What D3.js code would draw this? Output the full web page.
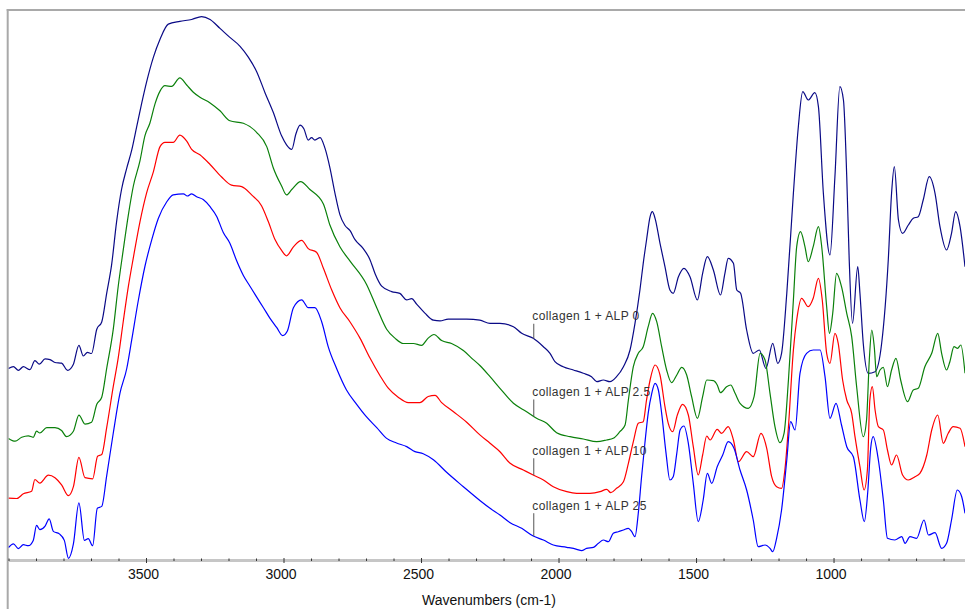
<!DOCTYPE html>
<html><head><meta charset="utf-8">
<script src="https://cdn.jsdelivr.net/npm/d3@7/dist/d3.min.js"></script>
<style>body{margin:0;background:#fff}svg{display:block}</style>
</head><body><svg id="c" width="965" height="609"></svg>
<script>
// ---------- data ----------
const seriesNames = ["collagen 1 + ALP 0", "collagen 1 + ALP 2.5", "collagen 1 + ALP 10", "collagen 1 + ALP 25"];
const seriesColors = ["#0a0a86", "#0b800b", "#ff0000", "#0000ff"];

const wn0 = [4000,3982,3964,3946,3922,3904,3888,3867,3849,3831,3807,3785,3764,3744,3728,3713,3698,3679,3661,3643,3625,3607,3589,3570,3552,3534,3516,3498,3473,3449,3419,3377,3334,3298,3267,3231,3195,3158,3128,3098,3067,3037,3007,2989,2970,2955,2940,2926,2910,2898,2886,2867,2849,2831,2813,2795,2777,2758,2740,2710,2686,2667,2643,2607,2577,2552,2534,2516,2486,2455,2431,2401,2334,2286,2249,2213,2164,2134,2092,2055,2031,2013,1983,1946,1910,1880,1861,1837,1813,1789,1764,1740,1722,1704,1692,1680,1667,1659,1649,1631,1613,1595,1583,1564,1544,1522,1495,1476,1459,1437,1411,1395,1383,1364,1352,1338,1316,1292,1270,1246,1221,1203,1189,1170,1146,1128,1112,1092,1068,1055,1037,1013,995,977,964,952,943,931,912,904,892,874,849,825,801,789,779,764,749,728,710,692,674,652,631,613,589,571,556,540,522];
const ab0 = [191.5,193.3,189.7,193.3,190.4,199.3,195.8,201.1,200.4,197.5,196.8,189.7,195.8,214.7,204,207.6,206.5,230.8,238,266.6,295.3,338.2,370.5,391.9,409.8,433.1,456.4,477.9,502.9,520.8,535.9,538.7,540.5,543.4,540.5,531.6,522.6,513.7,502.9,488.6,467.1,447.5,424.2,415.2,410.6,426,434.9,431.3,419.9,422.4,419.9,422.4,411.6,391.9,366.9,345.4,334.7,329.3,320.3,311.4,300.6,286.3,273.8,268.4,266.6,260.2,261.3,255.9,246.9,239.8,239.1,240.9,240.9,239.8,236.7,236.7,233.3,226.7,221.7,213.3,206.7,198.3,193.3,190,186.7,183.3,178.3,180,178.3,183.3,193.3,210,236.7,270,296.7,320,343.3,348.3,341.7,316.7,293.3,270,266.7,283.3,291.7,283.3,260,286.7,303.3,290,265,286.7,301.7,296.7,270,266.7,230,206.7,210,191.7,216.7,196.7,206.7,266.7,366.7,433.3,468.3,460,467.3,453.3,366.7,305,383.3,473.3,460,383.3,300,236.7,293.3,266.7,216.7,186.7,188.3,216.7,300,366.7,393.3,340,326.7,335,341.7,343.3,360,383.3,366.7,333.3,310,326.7,348.3,333.3,293.3];

const wn1 = [4000,3976,3952,3928,3910,3898,3886,3861,3831,3807,3789,3764,3744,3722,3698,3679,3661,3643,3619,3601,3583,3564,3546,3522,3504,3486,3467,3449,3431,3407,3377,3352,3328,3304,3267,3231,3195,3146,3098,3061,3037,3007,2989,2970,2938,2904,2855,2831,2795,2758,2698,2661,2625,2595,2564,2528,2498,2474,2453,2425,2389,2346,2310,2286,2249,2213,2164,2116,2080,2043,2007,1958,1910,1861,1825,1801,1777,1758,1746,1728,1710,1692,1674,1658,1643,1625,1607,1589,1570,1552,1534,1516,1495,1476,1461,1437,1423,1411,1389,1374,1358,1340,1310,1289,1267,1249,1231,1213,1195,1180,1164,1146,1134,1120,1104,1092,1074,1055,1043,1025,1015,1003,989,971,952,934,916,892,880,870,861,852,843,831,819,804,789,773,756,731,710,692,668,643,621,607,589,577,562,549,537,522];
const ab1 = [121.6,118.8,122.7,124.2,122.7,128.8,127,132.4,132.4,129.5,123.4,128.8,144.9,135.9,137.8,155.7,162.8,191.5,230.8,273.8,309.6,345.4,374,399.1,424.2,436.7,456.4,468.9,474.3,473.6,482.2,475,467.8,462.8,457.1,449.2,439.2,436.7,427.7,413.4,392,374,365.1,370.5,378.3,370.5,356.1,334.7,313.2,298.9,275.6,252.3,230.8,221.9,216.5,216.5,214.7,221.9,225.5,219.4,216.5,209.4,200.4,194.5,183.3,171.7,156.7,148.3,141.7,136.7,127.3,123.3,121,118.3,120,121.7,128.3,135,160,193.3,206.7,213.3,233.3,246.7,238.3,213.3,190,177.3,185,192.7,185,163.3,141.7,163.3,180,179.3,175,167.3,173.3,175,166.7,156.7,151.7,163.3,206.7,200,166.7,133.3,117.3,126.7,180,260,313.3,328.3,313.3,298.3,313.3,333.3,313.3,253.3,226.7,246.7,286.7,273.3,246.7,223.3,173.3,123.3,140,200,230,213.3,183.3,190,192.7,173.3,190,201.7,180,158.3,170,171.7,193.3,206.7,226.7,206.7,190,198.3,213.3,211.7,215,186.7];

const wn2 = [4000,3970,3946,3916,3904,3886,3855,3831,3807,3782,3764,3744,3722,3694,3676,3661,3643,3619,3601,3583,3564,3546,3522,3498,3473,3449,3431,3401,3377,3352,3334,3304,3267,3225,3189,3152,3116,3080,3055,3031,3007,2989,2964,2934,2910,2880,2855,2825,2795,2758,2722,2686,2649,2619,2583,2546,2504,2474,2449,2425,2383,2334,2286,2249,2213,2176,2128,2092,2055,2019,1970,1934,1886,1849,1825,1810,1789,1764,1746,1728,1710,1692,1680,1667,1649,1631,1613,1601,1585,1568,1549,1528,1510,1492,1476,1461,1449,1423,1407,1383,1364,1346,1316,1292,1264,1243,1225,1207,1189,1177,1164,1146,1134,1116,1092,1074,1055,1041,1025,1013,995,983,967,952,934,922,904,889,877,868,859,849,837,819,804,789,771,749,728,704,686,661,643,621,601,583,565,540,522];
const ab2 = [61.9,61.5,66.2,68.7,80.5,76.9,84.8,82.3,75.1,64.4,73.3,102.7,82.3,81.2,103.8,105.5,132.4,173.6,202.2,238,273.8,302.4,338.2,366.9,388.4,413.4,417.7,417.7,424.9,418.8,410.6,405.2,395.5,383,374.8,373.3,365.1,354.3,338.2,320.4,309.6,304.2,313.2,319.6,311.4,307.8,291.7,270.2,252.3,238,221.9,202.2,184.3,171.8,162.8,157.4,157.4,163.5,164.6,157.4,148.5,137.8,125.1,116.7,108.3,96.7,90,85,80,73.3,68.3,66.7,66.7,68.3,70.7,67.3,71.7,78.3,96.7,118.3,136.7,138.3,160,180,195,185,153.3,136.7,128.3,145,155.7,145,113.3,85,105,124,120,130.7,126.7,133.3,120,98.3,108.3,103.3,126.7,111.7,83.3,73.3,71.7,90,133.3,210,240,261.7,253.3,261.7,281.7,260,206.7,196.7,226.7,216.7,180,160,146.7,123.3,93.3,70,90,160,173.3,150,133.3,130,110,95,105,85,80,83.3,86.7,105,130,145,116.7,126.7,133.3,131.7,113.3];

const wn3 = [4000,3982,3964,3946,3928,3910,3898,3886,3867,3852,3837,3815,3797,3782,3764,3744,3724,3710,3694,3677,3661,3643,3619,3595,3570,3552,3528,3504,3479,3455,3425,3401,3364,3350,3334,3316,3292,3267,3243,3219,3195,3170,3146,3122,3098,3073,3049,3025,3003,2986,2964,2934,2910,2886,2861,2837,2807,2771,2734,2698,2661,2625,2589,2552,2522,2492,2455,2407,2346,2286,2249,2213,2176,2134,2092,2055,2019,1970,1934,1916,1898,1873,1855,1837,1819,1801,1783,1764,1746,1734,1722,1710,1698,1686,1674,1661,1649,1637,1625,1609,1595,1583,1570,1558,1544,1528,1510,1492,1474,1459,1443,1423,1403,1383,1362,1340,1316,1292,1274,1249,1231,1221,1207,1189,1170,1156,1140,1122,1098,1074,1049,1031,1013,991,971,952,928,904,888,876,865,856,837,819,804,777,752,740,722,698,671,655,631,607,589,571,550,534,522];
const ab3 = [12.5,16.1,11.4,15.3,14.3,19.6,34.6,30.4,33.9,41.1,28.6,26.1,19.6,1.7,16.1,57.2,19.6,21.4,14.3,51.8,53.6,84.1,127,166.4,191.5,220.1,259.5,293.5,320.4,341.8,358,365.1,366.2,364,366.2,363.3,360.4,353.3,343.6,327.5,316.8,298.9,284.5,273.8,263.1,252.3,241.6,232.6,224.4,229,252.3,260.2,252.3,252.3,238,212.9,191.5,170,155.7,143.1,132.4,121.6,117,113.4,108.4,106.3,100.2,87.7,73.3,59.5,51.7,45,37.3,31.7,24,20,15,12.7,10.7,9.3,11.7,12.7,16.7,20,18.3,26.7,28.3,30,31.7,28.3,23.3,46.7,83.3,116.7,146.7,166.7,176.7,170,146.7,106.7,80,83.3,106.7,130,134,116.7,76.7,38.3,60,86.7,76.7,93.3,105,118.3,111.7,90,70,40,13.3,15,11.7,8.3,21.7,50,100,138.3,130,186.7,206.7,210,210,183.3,141.7,156.7,135,113.3,103.3,60,38.3,66.7,111.7,123.3,100,60,21.7,20,23.3,16.7,23.3,21.7,40,25,27.3,11.7,16.7,40,70,63.3,46.7];

const majorTicks = [3500, 3000, 2500, 2000, 1500, 1000];
const minorTicks = d3.range(600, 4001, 100);
const labelWavenumber = 2090;
const xTitle = "Wavenumbers (cm-1)";

// ---------- layout ----------
const wnArrays = [wn0, wn1, wn2, wn3];
const abArrays = [ab0, ab1, ab2, ab3];
const leaderLen = [15, 17, 17, 23];

const svg = d3.select("#c");
const x = d3.scaleLinear().domain([4000, 522]).range([8.5, 965]);
const y = d3.scaleLinear().domain([0, 550]).range([560, 10]);

svg.append("defs").append("clipPath").attr("id", "clip")
  .append("rect").attr("x", 8.5).attr("y", 10).attr("width", 965 - 8.5).attr("height", 552);

// frame
svg.append("line").attr("x1", 6.7).attr("x2", 965).attr("y1", 10).attr("y2", 10)
  .attr("stroke", "#a9a9a9").attr("stroke-width", 2);
svg.append("line").attr("x1", 7.7).attr("x2", 7.7).attr("y1", 9).attr("y2", 609)
  .attr("stroke", "#a9a9a9").attr("stroke-width", 2);

// axis base
svg.append("line").attr("x1", 8.5).attr("x2", 965).attr("y1", 560.5).attr("y2", 560.5)
  .attr("stroke", "#c6c6c6").attr("stroke-width", 3);

const gMinor = svg.append("g").attr("transform", "translate(0,558.5)")
  .call(d3.axisBottom(x).tickValues(minorTicks.filter(t => !majorTicks.includes(t) && x(t) <= 965)).tickSize(2.5).tickFormat(""));
gMinor.select(".domain").remove();
gMinor.selectAll(".tick line").attr("stroke", "#333");

const gMajor = svg.append("g").attr("transform", "translate(0,558)")
  .call(d3.axisBottom(x).tickValues(majorTicks).tickSize(5).tickFormat(d3.format("d")));
gMajor.select(".domain").remove();
gMajor.selectAll(".tick line").attr("stroke", "#333");
gMajor.selectAll(".tick text")
  .attr("y", 21).attr("dy", 0).attr("x", -3)
  .attr("font-family", "'Liberation Sans', Arial, sans-serif").attr("font-size", 14).attr("fill", "#111");

svg.append("text").attr("x", 489).attr("y", 605).attr("text-anchor", "middle")
  .attr("font-family", "'Liberation Sans', Arial, sans-serif").attr("font-size", 14).attr("fill", "#111")
  .text(xTitle);

// series
const line = d3.line().x(d => x(d[0])).y(d => y(d[1])).curve(d3.curveMonotoneX);
const plot = svg.append("g").attr("clip-path", "url(#clip)");
seriesNames.forEach((name, i) => {
  const pts = wnArrays[i].map((w, j) => [w, abArrays[i][j]]).sort((a, b) => a[0] - b[0]);
  plot.append("path").datum(pts).attr("d", line)
    .attr("fill", "none").attr("stroke", seriesColors[i]).attr("stroke-width", 1.2)
    .attr("stroke-linejoin", "round");
});

// labels with leaders
function valueAt(ws, as, w) {
  for (let j = 0; j < ws.length - 1; j++) {
    if (ws[j] >= w && ws[j + 1] <= w) {
      const t = (ws[j] - w) / (ws[j] - ws[j + 1]);
      return as[j] + t * (as[j + 1] - as[j]);
    }
  }
  return as[0];
}
seriesNames.forEach((name, i) => {
  const lx = x(labelWavenumber);
  const cy = y(valueAt(wnArrays[i], abArrays[i], labelWavenumber));
  const top = cy - leaderLen[i];
  svg.append("line").attr("x1", lx).attr("x2", lx).attr("y1", top).attr("y2", cy)
    .attr("stroke", "#555").attr("stroke-width", 1);
  svg.append("text").attr("x", lx - 1.5).attr("y", top - 3.5)
    .attr("font-family", "'Liberation Sans', Arial, sans-serif").attr("font-size", 12)
    .attr("letter-spacing", 0.4).attr("fill", "#333").text(name);
});
</script></body></html>
